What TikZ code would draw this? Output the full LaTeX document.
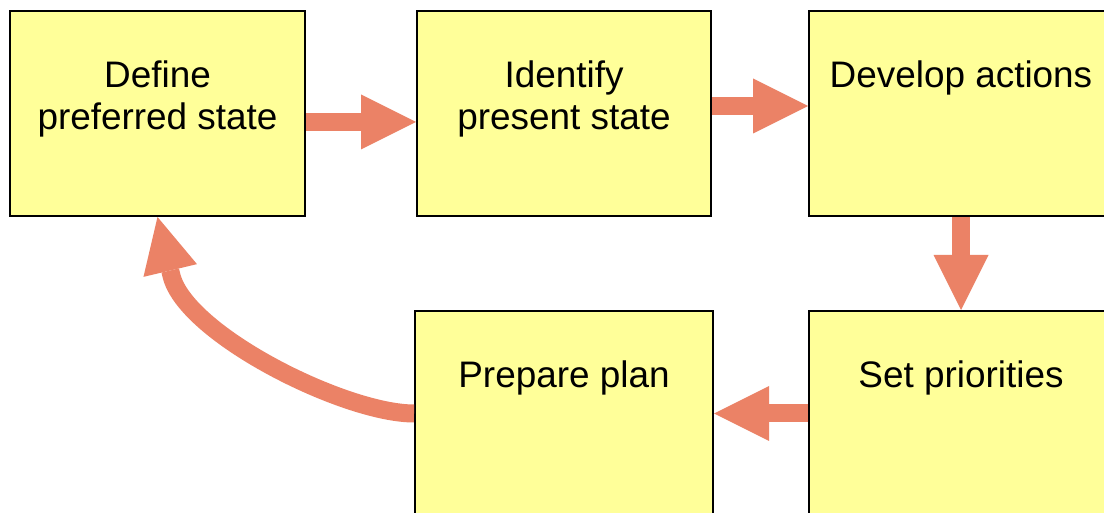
\documentclass[tikz,border=0pt]{standalone}
\usepackage{fontspec}
\setmainfont{Liberation Sans}
\usetikzlibrary{arrows.meta,calc}
\definecolor{boxfill}{RGB}{255,255,153}
\definecolor{arrowc}{RGB}{235,130,102}
\begin{document}
\begin{tikzpicture}[x=0.5pt,y=-0.5pt,
  stepbox/.style={draw=black, line width=1pt, fill=boxfill, inner sep=0pt, anchor=north west,
    minimum height=102.5pt},
  boxtext/.style={anchor=base, align=center, inner sep=0pt, font=\fontsize{18.45}{21}\selectfont},
  flow/.style={draw=arrowc, line width=9pt,
    -{Triangle[width=27.5pt,length=27.5pt,line width=0pt]}}]
\useasboundingbox (0,0) rectangle (1104,513);
\clip (0,0) rectangle (1104,513);
\fill[white] (0,0) rectangle (1104,513);
% boxes
\node[stepbox, minimum width=147.5pt] (b1) at (9,10) {};
\node[stepbox, minimum width=147pt]   (b2) at (416,10) {};
\node[stepbox, minimum width=152pt]   (b3) at (808,10) {};
\node[stepbox, minimum width=149pt]   (b4) at (414,310) {};
\node[stepbox, minimum width=152pt]   (b5) at (808,310) {};
% texts (base anchor = last line's baseline)
\node[boxtext] (t1) at ($(b1.north)+(0,120)$) {Define\\preferred state};
\node[boxtext] (t2) at ($(b2.north)+(0,120)$) {Identify\\present state};
\node[boxtext] (t3) at ($(b3.north)+(0,78)$) {Develop actions};
\node[boxtext] (t4) at ($(b4.north)+(0,77)$) {Prepare plan};
\node[boxtext] (t5) at ($(b5.north)+(0,77)$) {Set priorities};
% arrows
\draw[flow] ([yshift=-4.25pt]b1.east) -- ([yshift=-4.25pt]b2.west);
\draw[flow] ([yshift=3.75pt]b2.east) -- ([yshift=3.75pt]b3.west);
\draw[flow] (b3.south) -- (b5.north);
\draw[flow] (b5.west) -- (b4.east);
\coordinate (hb) at ($(b1.south)+(13.9,58.4)$);
\draw[flow] (b4.west) .. controls +(-70,0) and +(13.9,58.4) .. (hb) -- (b1.south);
\end{tikzpicture}
\end{document}
